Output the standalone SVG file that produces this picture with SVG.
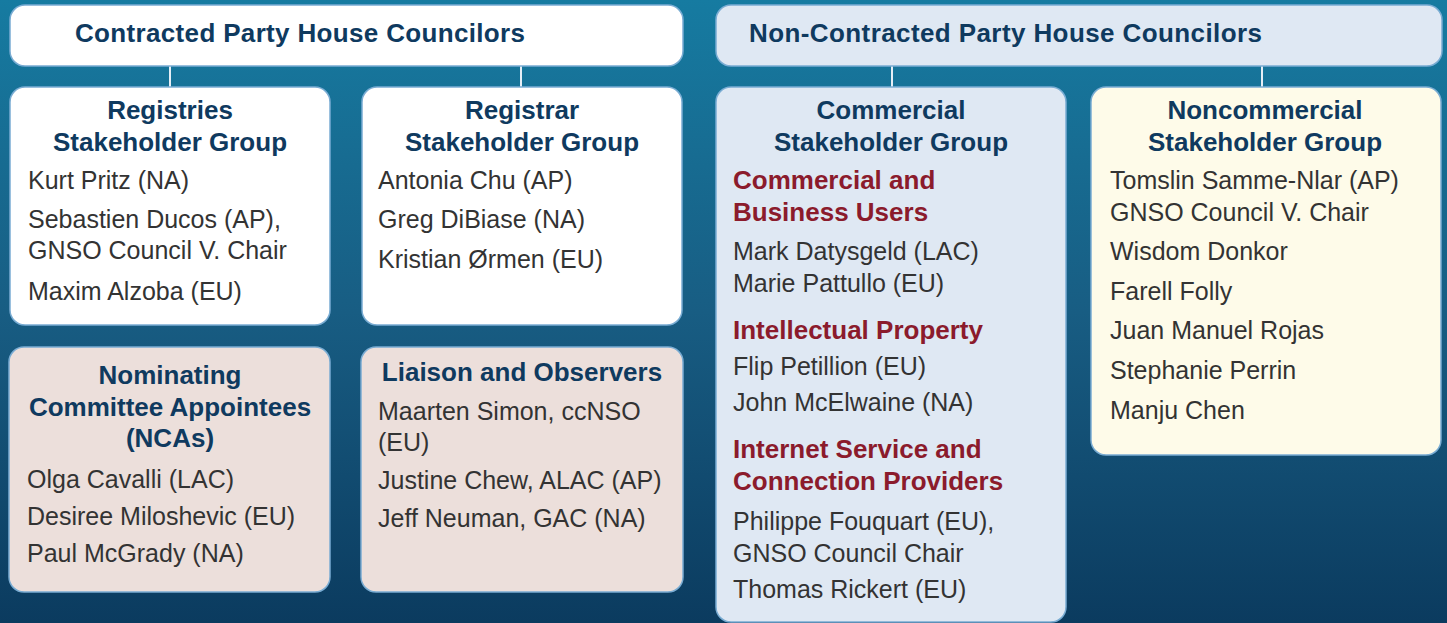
<svg xmlns="http://www.w3.org/2000/svg" width="1447" height="623" viewBox="0 0 1447 623">
  <defs>
    <linearGradient id="bg" x1="0" y1="0" x2="0" y2="1">
      <stop offset="0" stop-color="#167ba1"/>
      <stop offset="0.5" stop-color="#185d83"/>
      <stop offset="1" stop-color="#0b3b5f"/>
    </linearGradient>
    <style>
      .box { stroke: #79acd3; stroke-width: 1.5; }
      .white { fill: #ffffff; }
      .blue { fill: #dfe8f3; }
      .rose { fill: #ecdfdb; }
      .cream { fill: #fefbe9; }
      .link { stroke: #e6eef6; stroke-width: 2; fill: none; }
      .head { font-family: "Liberation Sans", Arial, sans-serif; font-weight: bold; font-size: 26px; fill: #0f3a5f; }
      .mid { text-anchor: middle; }
      .sub { font-family: "Liberation Sans", Arial, sans-serif; font-weight: bold; font-size: 26px; fill: #8b1b2c; }
      .body { font-family: "Liberation Sans", Arial, sans-serif; font-size: 25px; fill: #333333; }
    </style>
  </defs>

  <rect x="0" y="0" width="1447" height="623" fill="url(#bg)"/>

  <!-- connectors from the two houses down to their groups -->
  <g id="connectors">
    <line class="link" x1="170" y1="66" x2="170" y2="88"/>
    <line class="link" x1="521" y1="66" x2="521" y2="88"/>
    <line class="link" x1="892" y1="66" x2="892" y2="88"/>
    <line class="link" x1="1262" y1="66" x2="1262" y2="88"/>
  </g>

  <g id="contracted-house">
    <rect class="box white" x="10" y="5" width="673" height="61" rx="15"/>
    <text class="head" x="75" y="42" textLength="450">Contracted Party House Councilors</text>
  </g>

  <g id="noncontracted-house">
    <rect class="box blue" x="716" y="5" width="726" height="61" rx="15"/>
    <text class="head" x="749" y="42" textLength="513">Non-Contracted Party House Councilors</text>
  </g>

  <g id="registries">
    <rect class="box white" x="10" y="87" width="320" height="238" rx="15"/>
    <text class="head mid" x="170" y="119">Registries</text>
    <text class="head mid" x="170" y="151">Stakeholder Group</text>
    <text class="body" x="28" y="189">Kurt Pritz (NA)</text>
    <text class="body" x="28" y="228">Sebastien Ducos (AP),</text>
    <text class="body" x="28" y="259">GNSO Council V. Chair</text>
    <text class="body" x="28" y="300">Maxim Alzoba (EU)</text>
  </g>

  <g id="registrar">
    <rect class="box white" x="362" y="87" width="320" height="238" rx="15"/>
    <text class="head mid" x="522" y="119">Registrar</text>
    <text class="head mid" x="522" y="151">Stakeholder Group</text>
    <text class="body" x="378" y="189">Antonia Chu (AP)</text>
    <text class="body" x="378" y="228">Greg DiBiase (NA)</text>
    <text class="body" x="378" y="268">Kristian Ørmen (EU)</text>
  </g>

  <g id="nominating">
    <rect class="box rose" x="9" y="347" width="321" height="245" rx="15"/>
    <text class="head mid" x="170" y="384">Nominating</text>
    <text class="head mid" x="170" y="416">Committee Appointees</text>
    <text class="head mid" x="170" y="447">(NCAs)</text>
    <text class="body" x="27" y="488">Olga Cavalli (LAC)</text>
    <text class="body" x="27" y="525">Desiree Miloshevic (EU)</text>
    <text class="body" x="27" y="562">Paul McGrady (NA)</text>
  </g>

  <g id="liaison">
    <rect class="box rose" x="361" y="347" width="322" height="245" rx="15"/>
    <text class="head mid" x="522" y="381">Liaison and Observers</text>
    <text class="body" x="378" y="420">Maarten Simon, ccNSO</text>
    <text class="body" x="378" y="451">(EU)</text>
    <text class="body" x="378" y="489">Justine Chew, ALAC (AP)</text>
    <text class="body" x="378" y="527">Jeff Neuman, GAC (NA)</text>
  </g>

  <g id="commercial">
    <rect class="box blue" x="716" y="87" width="350" height="535" rx="15"/>
    <text class="head mid" x="891" y="119">Commercial</text>
    <text class="head mid" x="891" y="151">Stakeholder Group</text>
    <text class="sub" x="733" y="189">Commercial and</text>
    <text class="sub" x="733" y="221">Business Users</text>
    <text class="body" x="733" y="260">Mark Datysgeld (LAC)</text>
    <text class="body" x="733" y="292">Marie Pattullo (EU)</text>
    <text class="sub" x="733" y="339">Intellectual Property</text>
    <text class="body" x="733" y="375">Flip Petillion (EU)</text>
    <text class="body" x="733" y="411">John McElwaine (NA)</text>
    <text class="sub" x="733" y="458">Internet Service and</text>
    <text class="sub" x="733" y="490">Connection Providers</text>
    <text class="body" x="733" y="530">Philippe Fouquart (EU),</text>
    <text class="body" x="733" y="562">GNSO Council Chair</text>
    <text class="body" x="733" y="598">Thomas Rickert (EU)</text>
  </g>

  <g id="noncommercial">
    <rect class="box cream" x="1091" y="87" width="350" height="368" rx="15"/>
    <text class="head mid" x="1265" y="119">Noncommercial</text>
    <text class="head mid" x="1265" y="151">Stakeholder Group</text>
    <text class="body" x="1110" y="189">Tomslin Samme-Nlar (AP)</text>
    <text class="body" x="1110" y="221">GNSO Council V. Chair</text>
    <text class="body" x="1110" y="260">Wisdom Donkor</text>
    <text class="body" x="1110" y="300">Farell Folly</text>
    <text class="body" x="1110" y="339">Juan Manuel Rojas</text>
    <text class="body" x="1110" y="379">Stephanie Perrin</text>
    <text class="body" x="1110" y="419">Manju Chen</text>
  </g>
</svg>
